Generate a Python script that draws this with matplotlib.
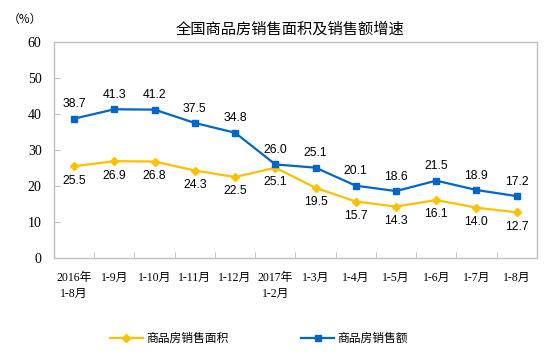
import numpy as np
import matplotlib.pyplot as plt
from matplotlib.ticker import FixedLocator

# data
months = ['2016年\n1-8月', '1-9月', '1-10月', '1-11月', '1-12月', '2017年\n1-2月',
          '1-3月', '1-4月', '1-5月', '1-6月', '1-7月', '1-8月']
area_growth = [25.5, 26.9, 26.8, 24.3, 22.5, 25.1, 19.5, 15.7, 14.3, 16.1, 14.0, 12.7]
sales_growth = [38.7, 41.3, 41.2, 37.5, 34.8, 26.0, 25.1, 20.1, 18.6, 21.5, 18.9, 17.2]

cjk = ['Noto Sans CJK SC', 'DejaVu Sans']
serif = ['Liberation Serif', 'Noto Sans CJK SC']
yellow = '#FFC000'
blue = '#0066CC'
grey = '#BFBFBF'

fig = plt.figure(figsize=(5.54, 3.58), dpi=100)
ax = fig.add_axes([0.0975, 0.279, 0.8715, 0.604])

x = np.arange(len(months))
l1, = ax.plot(x, area_growth, color=yellow, lw=1.6, marker='D', ms=4.5, label='商品房销售面积')
l2, = ax.plot(x, sales_growth, color=blue, lw=1.6, marker='s', ms=4.5, label='商品房销售额')

for xi, v in zip(x, sales_growth):
    ax.annotate('%.1f' % v, (xi, v), xytext=(0, 6), textcoords='offset points',
                ha='center', va='bottom', fontsize=8.8, family='Liberation Sans')
for xi, v in zip(x, area_growth):
    ax.annotate('%.1f' % v, (xi, v), xytext=(0, -6), textcoords='offset points',
                ha='center', va='top', fontsize=8.8, family='Liberation Sans')

ax.set_xlim(-0.5, len(months) - 0.5)
ax.set_ylim(0, 60)
ax.set_yticks(range(0, 61, 10))
ax.set_xticks(x)
ax.set_xticklabels(months, family=serif, fontsize=8.5, linespacing=1.45)
ax.xaxis.set_minor_locator(FixedLocator(np.arange(0.5, len(months) - 1, 1)))
ax.tick_params(axis='x', which='major', length=0, pad=10)
ax.tick_params(axis='x', which='minor', direction='in', length=4, color=grey)
ax.tick_params(axis='y', direction='in', length=4, color=grey, pad=9)
for lab in ax.get_yticklabels():
    lab.set_family('Liberation Serif')
    lab.set_fontsize(10)
for s in ax.spines.values():
    s.set_color(grey)
    s.set_linewidth(1.0)

fig.text(0.524, 0.92, '全国商品房销售面积及销售额增速', ha='center', va='center',
         fontsize=11, family=cjk)
fig.text(0.045, 0.945, '（%）', ha='center', va='center', fontsize=8.5, family=cjk)

leg1 = fig.legend(handles=[l1], loc='center', bbox_to_anchor=(0.305, 0.055), frameon=False,
                  prop={'family': cjk, 'size': 8.5}, handlelength=2.8, handletextpad=0.3)
leg2 = fig.legend(handles=[l2], loc='center', bbox_to_anchor=(0.64, 0.055), frameon=False,
                  prop={'family': cjk, 'size': 8.5}, handlelength=2.8, handletextpad=0.3)

fig.savefig('out.png', dpi=100)
